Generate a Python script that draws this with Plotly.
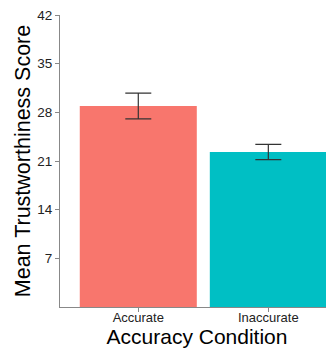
import plotly.graph_objects as go

conditions = ["Accurate", "Inaccurate"]
means = [28.9, 22.3]
errors = [1.85, 1.1]
colors = ["#F8766D", "#00BFC4"]
y_ticks = [7, 14, 21, 28, 35, 42]

fig = go.Figure()
fig.add_trace(go.Bar(
    x=conditions, y=means, width=0.9,
    marker=dict(color=colors, line=dict(width=0)),
    error_y=dict(type="data", array=errors, visible=True,
                 color="#333333", thickness=1.2, width=13),
))

# page body has an 8px default margin, so figure coordinates are offset by 8px
fig.update_layout(
    width=326, height=340,
    margin=dict(l=52, r=0, t=7, b=41, autoexpand=False),
    plot_bgcolor="white", paper_bgcolor="white",
    showlegend=False,
    font=dict(family="Liberation Sans, Arial, sans-serif", color="#000000"),
    xaxis=dict(
        range=[-0.602, 1.505],
        showline=True, linecolor="#888888", linewidth=1,
        ticks="outside", ticklen=4, tickcolor="#888888",
        tickfont=dict(size=13, color="#222222"),
        ticklabelstandoff=-6,
        title=dict(text="Accuracy Condition", font=dict(size=21), standoff=7),
        showgrid=False, zeroline=False,
    ),
    yaxis=dict(
        range=[0, 42],
        tickvals=y_ticks,
        showline=True, linecolor="#888888", linewidth=1,
        ticks="outside", ticklen=4, tickcolor="#888888",
        tickfont=dict(size=13.5, color="#222222"),
        ticklabeloverflow="allow",
        title=dict(text="Mean Trustworthiness Score", font=dict(size=21.5), standoff=0),
        showgrid=False, zeroline=False,
    ),
)

fig.write_html("out.html")
